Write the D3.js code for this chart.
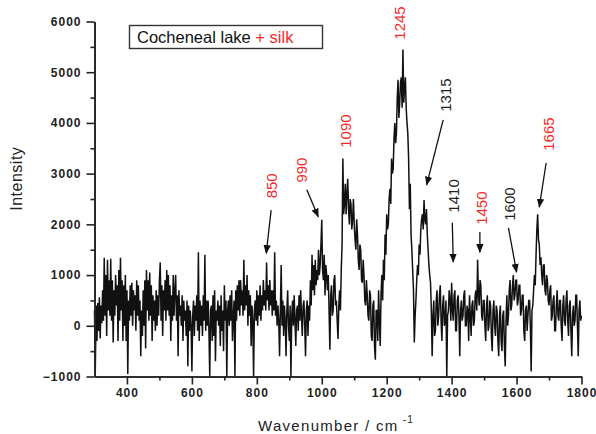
<!DOCTYPE html>
<html>
<head>
<meta charset="utf-8">
<script src="https://cdn.jsdelivr.net/npm/d3@7"></script>
<style>
  body { margin: 0; background: #fff; }
  svg text { font-family: "Liberation Sans", Arial, sans-serif; }
</style>
</head>
<body>
<main></main>
<script>
const w = 596;
const h = 434;

// wavenumber grid (cm-1)
const wnStart = 300;
const wnStep = 2.5;

// intensity, one row = 50 cm-1
const intensity = [
  300, -870, 400, -300, 450, -100, 560, -250, 400, 50, 700, 100, 1340, 200, 1000, -200, 1300, 300, 900, 200,
  1320, 100, 900, -330, 700, 200, 1000, 400, 800, -300, 1100, 100, 1340, 300, 900, -300, 800, 0, 1000, -300,
  700, -950, 500, 100, 800, 200, 850, 0, 700, 300, 600, -100, 900, 200, 800, 100, 500, -600, 300, -200,
  700, 0, 900, -450, 1100, 300, 900, 100, 1050, 200, 800, -300, 600, 100, 500, -100, 700, 0, 600, 200,
  900, 1250, 100, 800, -200, 700, 300, 900, 100, 1100, 300, 1000, 200, 800, -300, 600, 100, 1000, 200, 700,
  1000, 100, 600, -600, 700, 200, 400, 0, 600, -300, 500, 100, 300, -200, 500, -800, 400, -100, 300, 0,
  -900, 200, 500, -200, 400, 100, 600, -100, 1450, -300, 500, 0, 400, -200, 600, 100, 1400, -100, 500, 0,
  500, -100, -1000, 300, 400, -300, 600, -200, 700, -700, 300, 100, 500, 0, 400, -400, 600, -100, 300, -500,
  800, 100, 500, -1000, 300, 500, 0, 600, 100, 700, -300, 200, 500, -1000, 700, 100, 800, 300, 900, 200,
  900, 400, 700, 200, 1300, 300, 800, 400, 1000, 0, 700, 200, 600, -400, 400, 100, -1000, 300, 500, 100,
  700, 0, 600, 200, 800, 100, 600, 300, 900, 400, 700, 300, 1250, 500, 800, 300, 900, 400, 700, 200,
  700, 300, 1450, 200, 500, 0, 400, 100, -600, 300, 1200, 0, 500, -200, 400, 100, -600, 300, 700, 0,
  -300, 400, -1000, 200, 500, 0, 600, 100, -400, 300, 400, -100, 600, 100, 700, 200, -200, 400, 500, 0,
  -600, 300, 500, -200, 400, 100, 900, 400, 1400, 700, 1200, 600, 1300, 800, 1100, 900, 1500, 1000, 1200, 1600,
  2090, 1100, 900, 1400, 600, 1200, 1000, 700, 1000, 300, -470, 600, 800, 200, 300, 900, 1000, 400, 500, 100,
  -260, 400, 700, 300, 1100, 1600, 3300, 2200, 2400, 2800, 2200, 2600, 2900, 2300, 2000, 2500, 2400, 1900, 2100, 2500,
  2000, 1700, 1500, 2100, 1800, 1300, 1100, 1600, 1500, 900, 850, 1300, 1000, 500, 400, 900, 600, 200, 100, 700,
  600, -200, -300, 400, 500, -400, -670, 300, 300, -300, 700, 100, -400, 600, 1000, 500, 1300, 900, 1800, 1400,
  2200, 1900, 2000, 2500, 2700, 2400, 3300, 3000, 3100, 3700, 4000, 3600, 3800, 4500, 4850, 4100, 4400, 4800, 4900, 4300,
  5450, 4400, 4700, 4900, 4300, 4000, 3800, 3300, 2300, 2800, 1800, 1500, 1100, 700, -330, 200, 500, 900, 1200, 1000,
  1600, 1400, 1900, 2100, 2200, 1900, 2480, 2100, 2000, 2300, 1800, 1500, 1200, 1000, 850, 300, -600, 200, 500, -200,
  -100, 500, 700, 0, 200, 600, 800, 100, -300, 400, 600, 0, 100, 500, -1000, 200, 300, 700, 500, 100,
  850, 300, 100, 600, 700, -100, -100, 500, 600, 200, -600, 300, 500, 100, 200, 600, 700, 0, 0, 400,
  300, -300, 600, 200, -200, 400, 500, 0, 100, 600, 700, 300, 1300, 600, 400, 900, 800, 200, 100, 500,
  500, 0, -300, 400, 600, -100, 0, 500, 400, -200, -500, 300, 500, 0, -200, 400, 300, -300, -600, 200,
  400, -300, -500, 200, 300, -400, -800, 100, 600, 0, 200, 700, 900, 300, 400, 800, 1000, 500, 600, 900,
  900, 400, 500, 800, 800, 200, 300, 600, 600, -100, -300, 300, 400, -100, 200, 500, 500, 0, -900, 300,
  400, 700, 1000, 800, 1400, 1900, 2200, 1700, 1600, 1200, 1350, 1000, 800, 1200, 1200, 700, 600, 1000, 900, 500,
  400, 700, 800, 100, 200, 500, 600, -100, -100, 400, 700, 200, 100, 500, 500, 0, -300, 400, 600, 100,
  0, 500, 700, 100, -200, 400, 500, -100, -600, 200, 400, 0, 100, 600, 600, 0, -600, 300, 500, 100,
  200
];

const xTicks = [400, 600, 800, 1000, 1200, 1400, 1600, 1800];
const xMinorTicks = [500, 700, 900, 1100, 1300, 1500, 1700];
const yTicks = [-1000, 0, 1000, 2000, 3000, 4000, 5000, 6000];
const yMinorTicks = [-500, 500, 1500, 2500, 3500, 4500, 5500];

// peak labels
const peakLabels = ["850", "990", "1090", "1245", "1315", "1410", "1450", "1600", "1665"];
const peakColors = ["red", "red", "red", "red", "black", "black", "red", "black", "red"];
// label centre and arrow (from -> to), in wavenumber / intensity units
const labelPos = [
  [844, 2760], [938, 3070], [1072, 3840], [1241, 5970], [1380, 4550],
  [1405, 2560], [1493, 2320], [1578, 2400], [1698, 3780]
];
const arrows = [
  [[844, 2280], [829, 1430]],
  [[954, 2680], [989, 2150]],
  null,
  null,
  [[1374, 4060], [1323, 2780]],
  [[1402, 2030], [1405, 1260]],
  [[1487, 1850], [1487, 1450]],
  [[1575, 1930], [1600, 1060]],
  [[1691, 3210], [1670, 2340]]
];

const red = "#f52a2a";
const ink = "#111";

const xScale = d3.scaleLinear().domain([300, 1800]).range([94.5, 581.5]);
const yScale = d3.scaleLinear().domain([-1000, 6000]).range([376.5, 21.5]);

const svg = d3.select("main")
  .append("svg")
  .attr("width", w)
  .attr("height", h);

svg.append("defs").append("marker")
  .attr("id", "head")
  .attr("viewBox", "0 0 10 10")
  .attr("refX", 9).attr("refY", 5)
  .attr("markerWidth", 7).attr("markerHeight", 7)
  .attr("orient", "auto")
  .append("path")
  .attr("d", "M0,1 L10,5 L0,9 Z")
  .attr("fill", ink);

// spectrum
const line = d3.line()
  .x((d, i) => xScale(wnStart + i * wnStep))
  .y(d => yScale(d));

svg.append("path")
  .datum(intensity)
  .attr("d", line)
  .attr("fill", "none")
  .attr("stroke", ink)
  .attr("stroke-width", 1.5)
  .attr("stroke-linejoin", "miter")
  .attr("stroke-miterlimit", 2);

// axes
const xAxis = d3.axisBottom(xScale).tickValues(xTicks).tickSize(8).tickSizeOuter(0).tickPadding(4).tickFormat(d3.format("d"));
const xMinor = d3.axisBottom(xScale).tickValues(xMinorTicks).tickSize(4).tickSizeOuter(0).tickFormat("");
const yAxis = d3.axisLeft(yScale).tickValues(yTicks).tickSize(8).tickSizeOuter(0).tickPadding(5).tickFormat(d3.format("d"));
const yMinor = d3.axisLeft(yScale).tickValues(yMinorTicks).tickSize(4).tickSizeOuter(0).tickFormat("");

[xAxis, xMinor].forEach(a => {
  svg.append("g")
    .attr("class", "axis")
    .attr("transform", "translate(0," + yScale(-1000) + ")")
    .call(a);
});
[yAxis, yMinor].forEach(a => {
  svg.append("g")
    .attr("class", "axis")
    .attr("transform", "translate(" + xScale(300) + ",0)")
    .call(a);
});

svg.selectAll(".axis path, .axis line")
  .attr("stroke", "#222")
  .attr("stroke-width", 1.6);
svg.selectAll(".axis text")
  .attr("fill", "#222")
  .style("font-size", "12px")
  .style("font-weight", "bold")
  .style("letter-spacing", "1px");

// axis titles
svg.append("text")
  .attr("transform", "translate(22," + yScale(2900) + ") rotate(-90)")
  .attr("text-anchor", "middle")
  .style("font-size", "16px")
  .style("letter-spacing", "0.5px")
  .attr("fill", "#222")
  .text("Intensity");

const xt = svg.append("text")
  .attr("x", 258)
  .attr("y", 431)
  .style("font-size", "15px")
  .style("letter-spacing", "1.3px")
  .attr("fill", "#222");
xt.append("tspan").text("Wavenumber / cm");
xt.append("tspan").attr("dy", -8).style("font-size", "10px").text(" -1");

// legend box
svg.append("rect")
  .attr("x", 129.5).attr("y", 25.5)
  .attr("width", 193).attr("height", 23)
  .attr("fill", "#fff")
  .attr("stroke", "#333")
  .attr("stroke-width", 1.4);
const lg = svg.append("text")
  .attr("x", 137).attr("y", 43)
  .style("font-size", "16.5px")
  .attr("fill", ink);
lg.append("tspan").text("Cocheneal lake ");
lg.append("tspan").attr("fill", red).text("+ silk");

// peak annotations
peakLabels.forEach((lab, i) => {
  const [wx, wy] = labelPos[i];
  svg.append("text")
    .attr("transform", "translate(" + xScale(wx) + "," + yScale(wy) + ") rotate(-90)")
    .attr("text-anchor", "middle")
    .attr("dy", "0.36em")
    .style("font-size", "15px")
    .attr("fill", peakColors[i] === "red" ? red : "#222")
    .text(lab);
  if (arrows[i]) {
    const [a, b] = arrows[i];
    svg.append("line")
      .attr("x1", xScale(a[0])).attr("y1", yScale(a[1]))
      .attr("x2", xScale(b[0])).attr("y2", yScale(b[1]))
      .attr("stroke", ink)
      .attr("stroke-width", 1.3)
      .attr("marker-end", "url(#head)");
  }
});
</script>
</body>
</html>
